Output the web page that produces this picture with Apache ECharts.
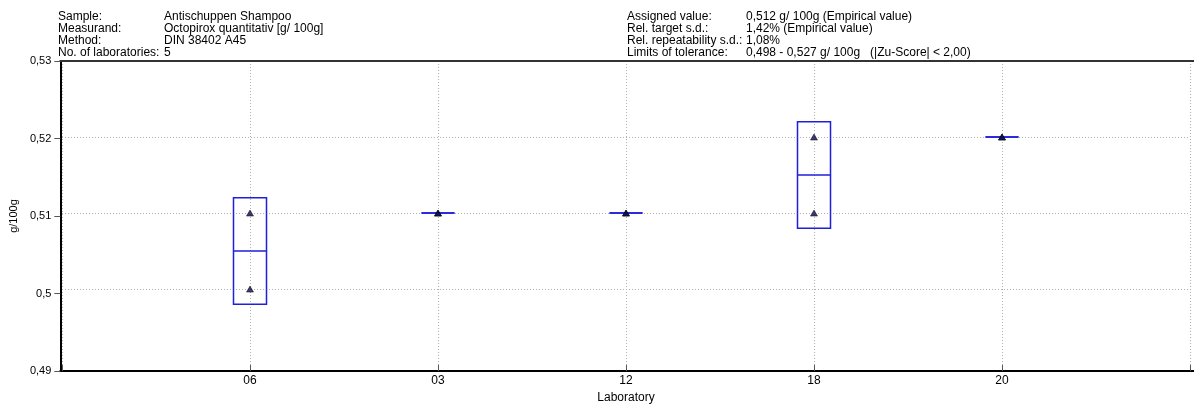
<!DOCTYPE html>
<html>
<head>
<meta charset="utf-8">
<script src="https://cdn.jsdelivr.net/npm/echarts@6/dist/echarts.min.js"></script>
<style>
html,body{margin:0;padding:0;background:#fff;}
#c{width:1194px;height:409px;}
</style>
</head>
<body>
<div id="c"></div>
<script>
// ---- data ----
const labs = ['06', '03', '12', '18', '20'];
const result1 = [0.51, 0.51, 0.51, 0.52, 0.52];
const result2 = [0.50, 0.51, 0.51, 0.51, 0.52];
const labMean = [0.505, 0.51, 0.51, 0.515, 0.52];
const boxLow = [0.498, 0.51, 0.51, 0.508, 0.52];
const boxHigh = [0.512, 0.51, 0.51, 0.522, 0.52];
const yTicks = [0.49, 0.50, 0.51, 0.52, 0.53];
const yTickLabels = ['0,49', '0,5', '0,51', '0,52', '0,53'];
const headLeftLabels = ['Sample:', 'Measurand:', 'Method:', 'No. of laboratories:'];
const headLeftValues = ['Antischuppen Shampoo', 'Octopirox quantitativ [g/ 100g]', 'DIN 38402 A45', '5'];
const headRightLabels = ['Assigned value:', 'Rel. target s.d.:', 'Rel. repeatability s.d.:', 'Limits of tolerance:'];
const headRightValues = ['0,512 g/ 100g (Empirical value)', '1,42% (Empirical value)', '1,08%', '0,498 - 0,527 g/ 100g   (|Zu-Score| < 2,00)'];
const yName = 'g/100g';
const xName = 'Laboratory';

const FONT = '"Liberation Sans", Arial, sans-serif';
const chart = echarts.init(document.getElementById('c'), null, {renderer: 'canvas'});

const idx = labs.map((_, i) => i + 1);
const pts = [];
idx.forEach((x, i) => { pts.push([x, result1[i]]); pts.push([x, result2[i]]); });
const boxes = idx.map((x, i) => [x, boxLow[i], labMean[i], boxHigh[i]]);

function headTitle(lines, left) {
  return {
    text: lines.join('\n'), left: left, top: 10.5, padding: 0,
    textStyle: {fontFamily: FONT, fontSize: 12, fontWeight: 'normal', color: '#000', lineHeight: 12}
  };
}

const option = {
  animation: false,
  backgroundColor: '#fff',
  title: [
    headTitle(headLeftLabels, 58),
    headTitle(headLeftValues, 164),
    headTitle(headRightLabels, 627),
    headTitle(headRightValues, 746)
  ],
  grid: [
    {left: 57, right: 0, top: 61, bottom: 38, containLabel: false},
    {left: 62, right: 4, top: 61, bottom: 38, containLabel: false}
  ],
  xAxis: [
    {gridIndex: 0, type: 'value', min: 0, max: 1, position: 'bottom',
     axisLine: {show: true, lineStyle: {color: '#000', width: 2}},
     axisTick: {show: false}, axisLabel: {show: false}, splitLine: {show: false}},
    {gridIndex: 0, type: 'value', min: 0, max: 1, position: 'top',
     axisLine: {show: true, lineStyle: {color: '#333', width: 2}},
     axisTick: {show: false}, axisLabel: {show: false}, splitLine: {show: false}},
    {gridIndex: 1, type: 'value', min: 0, max: 6, interval: 1, position: 'bottom',
     axisLine: {show: false},
     axisTick: {show: true, inside: false, length: 6, lineStyle: {color: '#555', width: 1}},
     axisLabel: {show: true, margin: 10, fontFamily: FONT, fontSize: 12, color: '#000',
       formatter: v => (v >= 1 && v <= labs.length) ? labs[v - 1] : ''},
     splitLine: {show: true, lineStyle: {color: '#b0b0b0', type: [1, 2], width: 1}},
     name: xName, nameLocation: 'middle', nameGap: 25,
     nameTextStyle: {fontFamily: FONT, fontSize: 12, color: '#000'}}
  ],
  yAxis: [
    {gridIndex: 0, type: 'value', min: 0.49, max: 0.53, interval: 0.01,
     axisLine: {show: true, lineStyle: {color: '#000', width: 2}},
     axisTick: {show: true, length: 6, lineStyle: {color: '#555', width: 1}},
     axisLabel: {show: true, margin: 9, fontFamily: FONT, fontSize: 11, color: '#000',
       formatter: v => { const k = yTicks.findIndex(t => Math.abs(t - v) < 1e-9); return k >= 0 ? yTickLabels[k] : ''; }},
     splitLine: {show: false},
     name: yName, nameLocation: 'middle', nameGap: 35,
     nameTextStyle: {fontFamily: FONT, fontSize: 11, color: '#000'}},
    {gridIndex: 1, type: 'value', min: 0.49, max: 0.53, interval: 0.01,
     axisLine: {show: false}, axisTick: {show: false}, axisLabel: {show: false},
     splitLine: {show: true, showMinLine: false, showMaxLine: false,
       lineStyle: {color: '#b0b0b0', type: [1, 2], width: 1}}}
  ],
  series: [
    {
      type: 'custom', xAxisIndex: 2, yAxisIndex: 1, data: boxes, z: 3,
      renderItem: function (params, api) {
        const x = api.value(0);
        const lo = api.coord([x, api.value(1)]);
        const mid = api.coord([x, api.value(2)]);
        const hi = api.coord([x, api.value(3)]);
        const w = 33;
        const stroke = {stroke: '#1f1fdc', lineWidth: 1.5, fill: null};
        return {
          type: 'group',
          children: [
            {type: 'rect', shape: {x: lo[0] - w / 2, y: hi[1], width: w, height: lo[1] - hi[1]},
             style: Object.assign({}, stroke, {fill: 'rgba(0,0,0,0)'})},
            {type: 'line', shape: {x1: mid[0] - w / 2, y1: mid[1], x2: mid[0] + w / 2, y2: mid[1]},
             style: stroke}
          ]
        };
      }
    },
    {
      type: 'scatter', xAxisIndex: 2, yAxisIndex: 1, data: pts, z: 4,
      symbol: 'triangle', symbolSize: [7, 6],
      itemStyle: {color: '#0c0c50', borderColor: '#000', borderWidth: 0.6}
    }
  ]
};
chart.setOption(option);
</script>
</body>
</html>
